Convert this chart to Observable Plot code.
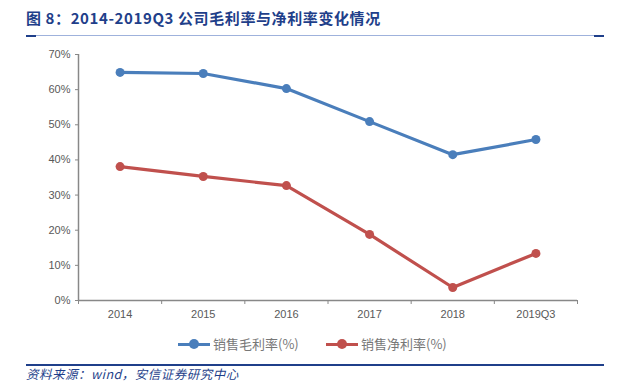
<!DOCTYPE html>
<html><head><meta charset="utf-8">
<script src="https://cdn.jsdelivr.net/npm/d3@7"></script>
<script src="https://cdn.jsdelivr.net/npm/@observablehq/plot@0.6"></script>
<style>
body{margin:0;background:#fff;width:636px;height:384px;position:relative;overflow:hidden;font-family:"Noto Sans CJK SC","Noto Sans",sans-serif;}
#title{position:absolute;left:26px;top:7px;font-size:15px;font-weight:bold;color:#1f3f8a;letter-spacing:0.6px;white-space:nowrap;}
#tline{position:absolute;left:26px;top:35px;width:578px;height:1px;background:#9fb2dc;}
.stub{position:absolute;top:35px;width:10px;height:2px;background:#1f3f8a;}
#chart{position:absolute;left:0;top:40px;}
#legend{position:absolute;top:333px;left:0;width:636px;height:22px;}
.li{position:absolute;top:0;font-size:13px;color:#777;white-space:nowrap;line-height:22px;}
.sw{position:absolute;top:10px;width:32px;height:3px;}
.dot{position:absolute;top:6px;width:10px;height:10px;border-radius:5px;}
#bline{position:absolute;left:26px;top:364px;width:578px;height:2px;background:#1f3f8a;}
#src{position:absolute;left:26px;top:366px;font-size:12.5px;line-height:16px;font-style:italic;color:#1f3f8a;white-space:nowrap;letter-spacing:0.5px;}
</style></head>
<body>
<div id="title">图 8：2014-2019Q3 公司毛利率与净利率变化情况</div>
<div id="tline"></div><div class="stub" style="left:26px"></div><div class="stub" style="left:594px"></div>
<div id="chart"></div>
<div id="legend"></div>
<div id="bline"></div>
<div id="src">资料来源：wind，安信证券研究中心</div>
<script>
const categories = ["2014","2015","2016","2017","2018","2019Q3"];
const grossMargin = [64.9, 64.6, 60.3, 50.9, 41.5, 45.8];
const netMargin = [38.1, 35.3, 32.7, 18.8, 3.7, 13.4];
const seriesNames = ["销售毛利率(%)", "销售净利率(%)"];
const colors = ["#4a7ebb", "#c0504d"];
const yTicks = [0,10,20,30,40,50,60,70];

const data = [];
categories.forEach((c,i)=>{
  data.push({i:i+0.5, cat:c, v:grossMargin[i], s:seriesNames[0]});
  data.push({i:i+0.5, cat:c, v:netMargin[i], s:seriesNames[1]});
});
const centers = categories.map((c,i)=>i+0.5);
const bounds = d3.range(categories.length+1);

const plot = Plot.plot({
  width:636, height:280,
  marginTop:14, marginBottom:20, marginLeft:78, marginRight:59,
  style:{fontFamily:"Liberation Sans, Arial, sans-serif", fontSize:"11px", color:"#595959", background:"#fff"},
  x:{type:"linear", domain:[0,categories.length]},
  y:{domain:[0,70]},
  color:{domain:seriesNames, range:colors},
  marks:[
    Plot.axisY({ticks:yTicks, tickSize:3, tickPadding:5, tickFormat:d=>d+"%", stroke:"#888", label:null, fill:"#595959"}),
    Plot.axisX({ticks:bounds, tickSize:4, tickFormat:()=>"", stroke:"#888", label:null}),
    Plot.axisX({ticks:centers, tickSize:0, tickPadding:10, tickFormat:d=>categories[Math.floor(d)], label:null, fill:"#595959"}),
    Plot.ruleX([0], {stroke:"#888", strokeWidth:1.5}),
    Plot.ruleY([0], {stroke:"#888", strokeWidth:1.5}),
    Plot.line(data, {x:"i", y:"v", z:"s", stroke:"s", strokeWidth:3.2}),
    Plot.dot(data, {x:"i", y:"v", fill:"s", r:4.5})
  ]
});
document.getElementById("chart").appendChild(plot);

const lg = document.getElementById("legend");
const pos = [178, 326];
seriesNames.forEach((n,k)=>{
  const x = pos[k];
  lg.insertAdjacentHTML("beforeend",
    `<div class="sw" style="left:${x}px;background:${colors[k]}"></div>`+
    `<div class="dot" style="left:${x+11}px;background:${colors[k]}"></div>`+
    `<div class="li" style="left:${x+35}px">${n}</div>`);
});
</script>
</body></html>
